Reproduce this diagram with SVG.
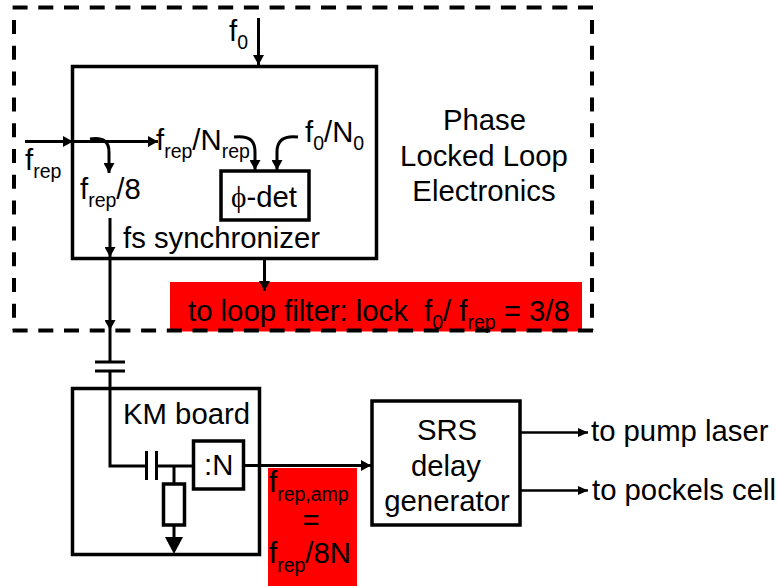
<svg xmlns="http://www.w3.org/2000/svg" width="778" height="586" viewBox="0 0 778 586">
<style>
text{font-family:"Liberation Sans",Arial,sans-serif;font-size:29.300px;fill:#000}
.m{text-anchor:middle}
.s{font-size:19.500px}
.box{fill:none;stroke:#000;stroke-width:3.5}
.w{fill:#fff;stroke:#000;stroke-width:3.5}
.l{fill:none;stroke:#000;stroke-width:3}
.h{fill:none;stroke:#000;stroke-width:2.5}
.d{fill:none;stroke:#000;stroke-width:4}
.dh{stroke-dasharray:15 10.700}
.dv{stroke-dasharray:14 11.800}
</style>
<defs>
<marker id="a" markerUnits="userSpaceOnUse" markerWidth="11" markerHeight="11" refX="10" refY="5.5" orient="auto"><path d="M0 0L10 5.5L0 11Z" fill="#000"/></marker>
<marker id="b" markerUnits="userSpaceOnUse" markerWidth="10" markerHeight="9" refX="10" refY="4.500" orient="auto"><path d="M0 0L10 4.500L0 9Z" fill="#000"/></marker>
</defs>
<rect width="778" height="586" fill="#fff"/>
<g id="lockred"><rect x="170" y="282" width="412" height="49.500" fill="#f00"/>
<text x="188" y="320.500">to loop filter: lock</text><text x="424" y="320.500">f<tspan class="s" dy="8">0</tspan><tspan dy="-8">/ f</tspan><tspan class="s" dy="8">rep</tspan><tspan dy="-8"> = 3/8</tspan></text></g>
<g id="pll"><path class="d dh" d="M593 7.500H12M593 330.500H12"/><path class="d dv" d="M14 20V330M592 20V330"/>
<text class="m" x="484.500" y="130">Phase</text><text class="m" x="484" y="166">Locked Loop</text><text class="m" x="484" y="201">Electronics</text></g>
<g id="sync"><rect class="box" x="72.500" y="66.500" width="304" height="192"/>
<text x="123" y="247.500">fs synchronizer</text></g>
<g id="phidet"><rect class="box" x="221" y="171" width="88" height="49"/>
<text x="231" y="206.500"><tspan font-family="'Liberation Serif',serif">ϕ</tspan>-det</text></g>
<g id="km"><rect class="box" x="72.500" y="388.500" width="187" height="166"/>
<text x="123" y="423.500">KM board</text></g>
<g id="divn"><rect class="w" x="193.500" y="441" width="50" height="48"/>
<text x="204" y="475">:N</text></g>
<g id="srs"><rect class="box" x="372" y="401" width="148" height="124"/>
<text class="m" x="447" y="439.500">SRS</text><text class="m" x="446" y="476">delay</text><text class="m" x="447" y="510.500">generator</text></g>
<g id="redamp"><rect x="268" y="468" width="89" height="118" fill="#f00"/>
<text x="269" y="492">f<tspan class="s" dy="9">rep,amp</tspan></text><text class="m" x="311" y="530">=</text><text x="269" y="563">f<tspan class="s" dy="9">rep</tspan><tspan dy="-9">/8N</tspan></text></g>
<g id="resistor"><rect class="box" x="163.500" y="484" width="21" height="41"/></g>
<g id="connectors">
<path class="l" d="M258.500 18V65" marker-end="url(#a)"/>
<path class="l" d="M25 141.500H73" marker-end="url(#a)"/>
<path class="l" d="M73 141.500H158" marker-end="url(#a)"/>
<path class="l" d="M90 139C104 137 109 142 109 152V173" marker-end="url(#a)"/>
<path class="l" d="M234 137C251 135 255 142 255 152V170" marker-end="url(#a)"/>
<path class="l" d="M298 137C282 135 277 142 277 152V170" marker-end="url(#a)"/>
<path class="l" d="M110 218V257" marker-end="url(#a)"/>
<path class="l" d="M264.500 260V291" marker-end="url(#a)"/>
<path class="l" d="M110 258V330" marker-end="url(#a)"/>
<path class="l" d="M110 330V362M110 371V466H147"/>
<path class="l" d="M95 362H125M95 371H125"/>
<path class="l" d="M146.500 451V480M156.500 451V480"/>
<path class="l" d="M157 466H193M174 466V484M174 525V541"/>
<path d="M165 537H183L174 554Z" fill="#000"/>
<path class="l" d="M244 465.500H371" marker-end="url(#a)"/>
<path class="h" d="M521 432.500H588" marker-end="url(#b)"/>
<path class="h" d="M521 490.500H588" marker-end="url(#b)"/>
</g>
<g id="labels">
<text x="229" y="40.500">f<tspan class="s" dy="8">0</tspan></text>
<text x="25" y="170">f<tspan class="s" dy="8">rep</tspan></text>
<text x="156" y="150">f<tspan class="s" dy="8">rep</tspan><tspan dy="-8">/N</tspan><tspan class="s" dy="8">rep</tspan></text>
<text x="305" y="141.500">f<tspan class="s" dy="8">0</tspan><tspan dy="-8">/N</tspan><tspan class="s" dy="8">0</tspan></text>
<text x="80" y="199">f<tspan class="s" dy="8">rep</tspan><tspan dy="-8">/8</tspan></text>
<text x="591" y="440.500">to pump laser</text>
<text x="592" y="500">to pockels cell</text>
</g>
</svg>
